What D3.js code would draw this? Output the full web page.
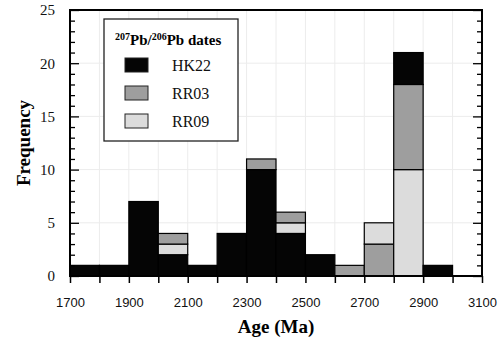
<!DOCTYPE html>
<html>
<head>
<meta charset="utf-8">
<script src="https://cdn.jsdelivr.net/npm/d3@7"></script>
<style>
  html, body { margin: 0; padding: 0; background: #fff; overflow: hidden; }
  svg { display: block; }
</style>
</head>
<body>
<svg id="chart"></svg>
<script>
// size
const width = 502;
const height = 345;
const margin = { top: 10, right: 20, bottom: 69, left: 70 };
const innerWidth = width - margin.left - margin.right;
const innerHeight = height - margin.top - margin.bottom;

// data: 100 Ma bins, counts per sample
const binStarts = [1700, 1800, 1900, 2000, 2100, 2200, 2300, 2400, 2500, 2600, 2700, 2800, 2900, 3000];
const hk22 = [1, 1, 7, 2, 1, 4, 10, 4, 2, 0, 0, 3, 1, 0];
const rr03 = [0, 0, 0, 1, 0, 0, 1, 1, 0, 1, 3, 8, 0, 0];
const rr09 = [0, 0, 0, 1, 0, 0, 0, 1, 0, 0, 2, 10, 0, 0];
// bottom-to-top stacking used in the figure for each bin
const stackOrder = [
    ["HK22"], ["HK22"], ["HK22"], ["HK22", "RR09", "RR03"], ["HK22"], ["HK22"],
    ["HK22", "RR03"], ["HK22", "RR09", "RR03"], ["HK22"], ["RR03"],
    ["RR03", "RR09"], ["RR09", "RR03", "HK22"], ["HK22"], []
];
const samples = ["HK22", "RR03", "RR09"];
const xTicks = [1700, 1800, 1900, 2000, 2100, 2200, 2300, 2400, 2500, 2600, 2700, 2800, 2900, 3000, 3100];
const xLabels = [1700, 1900, 2100, 2300, 2500, 2700, 2900, 3100];
const yTicks = [0, 5, 10, 15, 20, 25];

const counts = { HK22: hk22, RR03: rr03, RR09: rr09 };
const fills = { HK22: "#050505", RR03: "#9e9e9e", RR09: "#dcdcdc" };
const serif = "'Liberation Serif', 'Times New Roman', serif";

const svg = d3.select("#chart")
    .attr("width", width)
    .attr("height", height)
    .attr("viewBox", `0 0 ${width} ${height}`);

const g = svg.append("g")
    .attr("transform", `translate(${margin.left},${margin.top})`);

const xScale = d3.scaleLinear().domain([1700, 3100]).range([0, innerWidth]);
const yScale = d3.scaleLinear().domain([0, 25]).range([innerHeight, 0]);

// faint grid
g.append("g")
    .selectAll("line")
    .data(xTicks.slice(1, -1))
    .enter()
    .append("line")
    .attr("x1", d => xScale(d)).attr("x2", d => xScale(d))
    .attr("y1", 0).attr("y2", innerHeight)
    .attr("stroke", "#ececec").attr("stroke-width", 1);
g.append("g")
    .selectAll("line")
    .data(yTicks.slice(1, -1))
    .enter()
    .append("line")
    .attr("x1", 0).attr("x2", innerWidth)
    .attr("y1", d => yScale(d)).attr("y2", d => yScale(d))
    .attr("stroke", "#ececec").attr("stroke-width", 1);

// build stacked rectangles
const rects = [];
binStarts.forEach((b, i) => {
    let base = 0;
    stackOrder[i].forEach(s => {
        const v = counts[s][i];
        if (v > 0) {
            rects.push({ start: b, end: b + 100, y0: base, y1: base + v, sample: s });
            base += v;
        }
    });
});

g.append("g")
    .selectAll("rect")
    .data(rects)
    .enter()
    .append("rect")
    .attr("x", d => xScale(d.start))
    .attr("width", d => xScale(d.end) - xScale(d.start))
    .attr("y", d => yScale(d.y1))
    .attr("height", d => yScale(d.y0) - yScale(d.y1))
    .attr("fill", d => fills[d.sample])
    .attr("stroke", "#000")
    .attr("stroke-width", 1.2);

// x axis: outward ticks every 100, labels every 200
const gxt = g.append("g")
    .attr("transform", `translate(0,${innerHeight})`)
    .call(d3.axisBottom(xScale).tickValues(xTicks).tickSize(7).tickFormat(""));
gxt.select(".domain").remove();
gxt.selectAll("text").remove();
gxt.selectAll("line").attr("stroke", "#000").attr("stroke-width", 1.5);

const gxl = g.append("g")
    .attr("transform", `translate(0,${innerHeight})`)
    .call(d3.axisBottom(xScale).tickValues(xLabels).tickSize(0).tickPadding(31).tickFormat(d3.format("d")));
gxl.attr("font-family", "'Liberation Sans', Arial, sans-serif").attr("font-size", 13);
gxl.select(".domain").remove();
gxl.selectAll("line").remove();
gxl.selectAll("text").attr("dy", null).attr("fill", "#111");

// y axes (inward ticks, minor every 1)
const minor = d3.range(0, 26).filter(v => v % 5 !== 0);
function yAxisOn(sel, left) {
    const make = () => (left ? d3.axisLeft(yScale) : d3.axisRight(yScale));
    const mnr = sel.append("g").call(make().tickValues(minor).tickSize(-5).tickFormat(""));
    const maj = sel.append("g").call(make().tickValues(yTicks).tickSize(-9).tickPadding(15).tickFormat(d3.format("d")));
    maj.attr("font-family", serif).attr("font-size", 15);
    mnr.select(".domain").remove();
    maj.select(".domain").remove();
    mnr.selectAll("text").remove();
    if (!left) maj.selectAll("text").remove();
    sel.selectAll("line").attr("stroke", "#000").attr("stroke-width", 1.3);
    maj.selectAll("text").attr("fill", "#111");
}
yAxisOn(g.append("g"), true);
yAxisOn(g.append("g").attr("transform", `translate(${innerWidth},0)`), false);

// frame
g.append("rect")
    .attr("width", innerWidth)
    .attr("height", innerHeight)
    .attr("fill", "none")
    .attr("stroke", "#000")
    .attr("stroke-width", 2);

// axis labels
svg.append("text")
    .attr("x", margin.left + innerWidth / 2)
    .attr("y", height - 12)
    .attr("text-anchor", "middle")
    .attr("font-family", serif)
    .attr("font-size", 19)
    .attr("font-weight", "bold")
    .text("Age (Ma)");
svg.append("text")
    .attr("x", 0)
    .attr("y", 0)
    .attr("text-anchor", "middle")
    .attr("transform", `translate(30, ${margin.top + innerHeight / 2}) rotate(-90)`)
    .attr("font-family", serif)
    .attr("font-size", 19)
    .attr("font-weight", "bold")
    .text("Frequency");

// legend
const lx = 104, ly = 19;
svg.append("rect")
    .attr("x", lx).attr("y", ly)
    .attr("width", 134).attr("height", 122)
    .attr("fill", "#fff").attr("stroke", "#222").attr("stroke-width", 1.3);
const title = svg.append("text")
    .attr("x", lx + 11).attr("y", ly + 26)
    .attr("font-family", serif)
    .attr("font-size", 15)
    .attr("font-weight", "bold");
title.append("tspan").attr("baseline-shift", "super").attr("font-size", 10).text("207");
title.append("tspan").text("Pb/");
title.append("tspan").attr("baseline-shift", "super").attr("font-size", 10).text("206");
title.append("tspan").text("Pb dates");

svg.selectAll("rect.swatch")
    .data(samples)
    .enter()
    .append("rect")
    .attr("class", "swatch")
    .attr("x", lx + 21)
    .attr("y", (d, i) => ly + 39 + i * 28)
    .attr("width", 23).attr("height", 14)
    .attr("fill", d => fills[d]).attr("stroke", "#222").attr("stroke-width", 1);
svg.selectAll("text.item")
    .data(samples)
    .enter()
    .append("text")
    .attr("class", "item")
    .attr("x", lx + 68)
    .attr("y", (d, i) => ly + 51.5 + i * 28)
    .attr("font-family", serif)
    .attr("font-size", 16)
    .attr("fill", "#111")
    .text(d => d);
</script>
</body>
</html>
